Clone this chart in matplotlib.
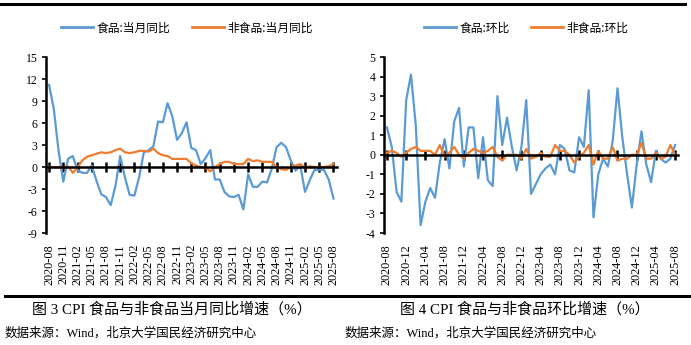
import numpy as np
import pandas as pd
import matplotlib
matplotlib.use("Agg")
import matplotlib.pyplot as plt
from matplotlib.lines import Line2D

# monthly axis 2020-08 .. 2025-08
months = pd.date_range("2020-08-01", "2025-08-01", freq="MS").strftime("%Y-%m").tolist()

# 图3: 当月同比 (%)
food_yoy = [11.2, 7.9, 2.2, -2.0, 1.1, 1.5, -0.4, -0.8, -0.8, 0.2,
            -1.9, -3.7, -4.1, -5.2, -2.6, 1.5, -1.4, -3.8, -3.9, -1.4,
            2.0, 2.3, 2.8, 6.2, 6.1, 8.7, 6.9, 3.7, 4.6, 6.1,
            2.6, 2.3, 0.4, 1.2, 2.3, -1.7, -1.7, -3.4, -4.0, -4.1,
            -3.8, -5.8, -1.0, -2.7, -2.7, -2.0, -2.1, -0.2, 2.7, 3.3,
            2.7, 0.9, -0.5, 0.2, -3.4, -1.8, -0.4, -0.4, -0.4, -1.7, -4.3]
nonfood_yoy = [0.0, 0.0, 0.0, -0.1, 0.1, -0.8, -0.1, 0.9, 1.4, 1.6,
               1.8, 2.0, 1.9, 2.0, 2.3, 2.5, 2.0, 1.9, 2.0, 2.2,
               2.2, 2.1, 2.5, 1.9, 1.6, 1.5, 1.1, 1.1, 1.1, 1.1,
               0.5, 0.2, 0.0, -0.1, -0.6, 0.0, 0.4, 0.7, 0.7, 0.4,
               0.4, 0.4, 1.1, 0.8, 0.9, 0.7, 0.7, 0.7, 0.0, -0.3,
               -0.4, 0.0, 0.2, 0.4, -0.1, 0.1, 0.0, 0.0, 0.0, 0.1, 0.4]

# 图4: 环比 (%)
food_mom = [1.4, 0.4, -1.9, -2.4, 2.8, 4.1, 1.5, -3.6, -2.4, -1.7,
            -2.2, -0.4, 0.8, -0.7, 1.7, 2.4, -0.6, 1.4, 1.4, -1.2,
            0.9, -1.3, -1.6, 3.0, 0.5, 1.9, 0.4, -0.8, 0.4, 2.8,
            -2.0, -1.5, -1.0, -0.7, -0.5, -1.0, 0.5, 0.3, -0.8, -0.9,
            0.9, 0.4, 3.3, -3.2, -1.0, -0.2, -0.6, 0.7, 3.4, 0.9,
            -1.0, -2.7, -0.5, 1.2, -0.5, -1.4, 0.2, -0.2, -0.4, -0.2, 0.5]
nonfood_mom = [0.1, 0.2, 0.1, -0.1, 0.1, 0.3, 0.4, 0.2, 0.2, 0.2,
               0.0, 0.5, -0.1, 0.1, 0.4, 0.0, -0.2, 0.1, 0.3, 0.2,
               0.1, 0.2, 0.4, -0.1, -0.3, 0.0, 0.0, 0.0, -0.2, 0.3,
               -0.2, -0.1, 0.1, -0.1, -0.1, 0.5, 0.2, 0.2, 0.0, -0.4,
               -0.1, 0.1, 0.5, -0.5, 0.2, -0.2, -0.2, 0.4, -0.3, -0.2,
               -0.2, 0.0, 0.0, 0.6, -0.2, -0.2, 0.1, -0.2, -0.1, 0.5, 0.0]

left_labels = ["食品:当月同比", "非食品:当月同比"]
right_labels = ["食品:环比", "非食品:环比"]
left_yticks = [-9, -6, -3, 0, 3, 6, 9, 12, 15]
right_yticks = [-4, -3, -2, -1, 0, 1, 2, 3, 4, 5]
captions = ["图 3 CPI 食品与非食品当月同比增速（%）", "图 4 CPI 食品与非食品环比增速（%）"]
source = "数据来源：Wind，北京大学国民经济研究中心"

BLUE = "#5B9BD5"
ORANGE = "#ED7D31"
CJK = ["Noto Sans CJK SC", "DejaVu Sans"]
SERIF = ["Liberation Serif", "Noto Sans CJK SC", "DejaVu Sans"]

plt.rcParams["font.family"] = SERIF
plt.rcParams["axes.unicode_minus"] = False

W, H = 691, 345
fig = plt.figure(figsize=(W / 100, H / 100), dpi=100)


def panel(left_px, right_px, food, nonfood, labels, yticks, step, xlim):
    ax = fig.add_axes([left_px / W, 1 - 233 / H, (right_px - left_px) / W, 176 / H])
    x = np.arange(len(months))
    ax.plot(x, food, color=BLUE, lw=1.6, label=labels[0])
    ax.plot(x, nonfood, color=ORANGE, lw=1.6, label=labels[1])
    ax.set_xlim(xlim)
    ax.set_ylim(yticks[0], yticks[-1])
    ax.set_yticks(yticks)
    for s in ["top", "right"]:
        ax.spines[s].set_visible(False)
    ax.spines["left"].set_linewidth(1.8)
    ax.spines["bottom"].set_position(("data", 0))
    ax.spines["bottom"].set_linewidth(1.8)
    ticks = x[::step]
    ax.set_xticks(ticks)
    ax.tick_params(axis="x", direction="inout", length=7, width=1.8, labelbottom=False)
    ax.tick_params(axis="y", direction="out", length=3, width=1.2, pad=3, labelsize=8.5)
    sec = ax.secondary_xaxis("bottom")
    sec.set_xticks(ticks, [months[i] for i in ticks], rotation=90)
    sec.tick_params(length=0, pad=8, labelsize=8.8)
    sec.spines["bottom"].set_visible(False)
    leg = ax.legend(loc="center", bbox_to_anchor=(0.485, 1.165), ncol=2, frameon=False,
                    prop={"family": CJK, "size": 8.5}, handlelength=2.7,
                    handletextpad=0.3, columnspacing=1.8)
    for ln in leg.get_lines():
        ln.set_linewidth(2)
    return ax


panel(46, 337, food_yoy, nonfood_yoy, left_labels, left_yticks, 3, (-0.65, 60.75))
panel(384, 678, food_mom, nonfood_mom, right_labels, right_yticks, 4, (-0.62, 60.6))

# frame rules above and below the charts
fig.add_artist(Line2D([0, 685 / W], [1 - 3.5 / H] * 2, color="black", lw=2.2))
fig.add_artist(Line2D([5 / W, 689 / W], [1 - 296 / H] * 2, color="black", lw=2.2))

fig.text(172 / W, 1 - 309 / H, captions[0], ha="center", va="center", fontsize=10.8)
fig.text(525 / W, 1 - 309 / H, captions[1], ha="center", va="center", fontsize=10.8)
fig.text(5 / W, 1 - 333 / H, source, ha="left", va="center", fontsize=9)
fig.text(345 / W, 1 - 333 / H, source, ha="left", va="center", fontsize=9)

fig.savefig("out.png", dpi=100)
